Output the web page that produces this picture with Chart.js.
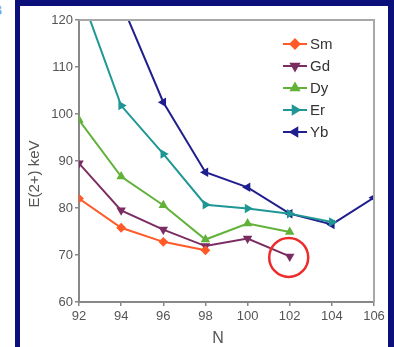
<!DOCTYPE html>
<html>
<head>
<meta charset="utf-8">
<script src="https://cdn.jsdelivr.net/npm/chart.js@4/dist/chart.umd.min.js"></script>
<style>
  html, body { margin: 0; padding: 0; background: #fff; }
  #wrap { position: relative; width: 394px; height: 347px; overflow: hidden; }
  .frame { position: absolute; background: #0a0f7a; }
  #cut { position: absolute; left: -8px; top: 2px; font: bold 14px "Liberation Sans", Arial, sans-serif; color: #7aa6e6; }
  canvas { position: absolute; left: 0; top: 0; }
</style>
</head>
<body>
<div id="wrap">
  <div id="cut">B</div>
  <div class="frame" style="left:15px;top:0;width:379px;height:6px"></div>
  <div class="frame" style="left:15px;top:0;width:5px;height:347px"></div>
  <div class="frame" style="left:388px;top:0;width:6px;height:347px"></div>
  <canvas id="chart" width="394" height="347"></canvas>
</div>
<script>
// --- data ---
const labels = ['Sm', 'Gd', 'Dy', 'Er', 'Yb'];
const smN = [92, 94, 96, 98];
const smE = [82, 75.8, 72.8, 71];
const gdN = [92, 94, 96, 98, 100, 102];
const gdE = [89.5, 79.5, 75.4, 71.9, 73.5, 69.7];
const dyN = [92, 94, 96, 98, 100, 102];
const dyE = [98.7, 86.7, 80.6, 73.3, 76.7, 74.9];
const erN = [92, 94, 96, 98, 100, 102, 104];
const erE = [126.5, 101.8, 91.5, 80.7, 79.9, 78.8, 77.0];
const ybN = [94, 96, 98, 100, 102, 104, 106];
const ybE = [123.7, 102.5, 87.6, 84.4, 78.8, 76.5, 82.2];
const xTicks = [92, 94, 96, 98, 100, 102, 104, 106];
const yTicks = [60, 70, 80, 90, 100, 110, 120];
const xTitle = 'N';
const yTitle = 'E(2+) keV';
const circled = { x: 102, y: 69.7 };

const colors = ['#ff5a28', '#7b2d62', '#62b23a', '#1f9794', '#1f1f8e'];
const styles = ['rectRot', 'triangle', 'triangle', 'triangle', 'triangle'];
const rotations = [0, 180, 0, 90, -90];
const FONT = '"Liberation Sans", Arial, sans-serif';

function pts(xs, ys) {
    return xs.map((x, i) => ({ x: x, y: ys[i] }));
}
const series = [pts(smN, smE), pts(gdN, gdE), pts(dyN, dyE), pts(erN, erE), pts(ybN, ybE)];

const datasets = series.map((d, i) => ({
    label: labels[i],
    data: d,
    borderColor: colors[i],
    backgroundColor: colors[i],
    borderWidth: 2,
    pointStyle: styles[i],
    pointRotation: rotations[i],
    pointRadius: 3.5,
    pointHoverRadius: 3.5,
    tension: 0
}));

// frame, axis titles, legend and the red ring
const extras = {
    id: 'extras',
    afterDatasetsDraw(chart) {
        const ctx = chart.ctx;
        const a = chart.chartArea;
        ctx.save();
        // top and right edge of the box
        ctx.strokeStyle = '#a8a8a8';
        ctx.lineWidth = 2;
        ctx.beginPath();
        ctx.moveTo(a.left, a.top);
        ctx.lineTo(a.right, a.top);
        ctx.lineTo(a.right, a.bottom);
        ctx.stroke();

        // axis titles
        ctx.fillStyle = '#555';
        ctx.textAlign = 'center';
        ctx.textBaseline = 'middle';
        ctx.font = '16px ' + FONT;
        ctx.fillText(xTitle, 218, 339);
        ctx.save();
        ctx.translate(35, 174);
        ctx.rotate(-Math.PI / 2);
        ctx.font = '15px ' + FONT;
        ctx.fillText(yTitle, 0, 0);
        ctx.restore();

        // legend
        ctx.font = '15px ' + FONT;
        ctx.textAlign = 'left';
        labels.forEach((lab, i) => {
            const y = 44 + i * 22;
            ctx.strokeStyle = colors[i];
            ctx.fillStyle = colors[i];
            ctx.lineWidth = 2;
            ctx.beginPath();
            ctx.moveTo(283, y);
            ctx.lineTo(307, y);
            ctx.stroke();
            Chart.helpers.drawPoint(ctx, {
                pointStyle: styles[i], rotation: rotations[i], radius: 4.5, borderWidth: 1
            }, 295, y);
            ctx.fillStyle = '#333';
            ctx.fillText(lab, 310, y + 1);
        });

        // red ring
        const cx = chart.scales.x.getPixelForValue(circled.x) - 1;
        const cy = chart.scales.y.getPixelForValue(circled.y) + 1;
        ctx.strokeStyle = '#ee2b2b';
        ctx.lineWidth = 2.5;
        ctx.beginPath();
        ctx.arc(cx, cy, 19.5, 0, Math.PI * 2);
        ctx.stroke();
        ctx.restore();
    }
};

const tickFont = { family: FONT, size: 13 };

new Chart(document.getElementById('chart'), {
    type: 'line',
    data: { datasets: datasets },
    plugins: [extras],
    options: {
        responsive: false,
        animation: false,
        events: [],
        layout: { padding: { left: 20, top: 20, right: 20, bottom: 0 } },
        plugins: { legend: { display: false }, tooltip: { enabled: false } },
        scales: {
            x: {
                type: 'linear',
                min: xTicks[0],
                max: xTicks[xTicks.length - 1],
                afterBuildTicks: s => { s.ticks = xTicks.map(v => ({ value: v })); },
                afterFit: s => { s.height = 45; },
                border: { color: '#888', width: 2 },
                grid: { drawOnChartArea: false, tickLength: 4, color: '#888', lineWidth: 1.5 },
                ticks: { font: tickFont, color: '#555', padding: 3, maxRotation: 0 }
            },
            y: {
                min: yTicks[0],
                max: yTicks[yTicks.length - 1],
                afterBuildTicks: s => { s.ticks = yTicks.map(v => ({ value: v })); },
                afterFit: s => { s.width = 59; },
                border: { color: '#888', width: 2 },
                grid: { drawOnChartArea: false, tickLength: 4, color: '#888', lineWidth: 1.5 },
                ticks: { font: tickFont, color: '#555', padding: 2 }
            }
        }
    }
});
</script>
</body>
</html>
